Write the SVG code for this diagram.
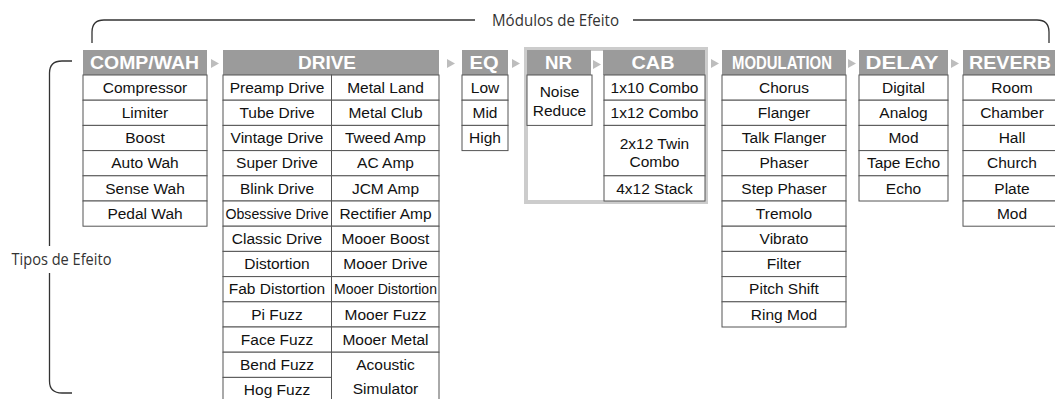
<svg xmlns="http://www.w3.org/2000/svg" width="1055" height="399" viewBox="0 0 1055 399">
<style>
.bg{fill:#fff}
.c{fill:#fff;stroke:#555;stroke-width:1}
.t{font-family:"Liberation Sans",Arial,sans-serif;font-size:15.5px;fill:#111;text-anchor:middle}
.hd{fill:#9b9b9b}
.ht{font-family:"Liberation Sans",Arial,sans-serif;font-size:19px;font-weight:bold;fill:#fff;text-anchor:middle}
.ar{fill:#bdbdbd}
.br{fill:none;stroke:#333;stroke-width:1.3}
.lb{font-family:"Open Sans","Noto Sans",sans-serif;font-size:15.5px;fill:#333}
</style>
<rect class="bg" x="0" y="0" width="1055" height="399"/>

<g id="connectors">
<path class="br" d="M92,43 L92,32 Q92,20 104,20 L475,20 M633,20 L1037,20 Q1049,20 1049,32 L1049,43"/>
<path class="br" d="M72,61 L62,61 Q49.5,61 49.5,73 L49.5,246 M49.5,273 L49.5,381 Q49.5,393 62,393 L72,393"/>
<polygon class="ar" points="211,59 219,63.5 211,68"/>
<polygon class="ar" points="447,59 455,63.5 447,68"/>
<polygon class="ar" points="512,59 520,63.5 512,68"/>
<polygon class="ar" points="593,60 601,64.5 593,69"/>
<polygon class="ar" points="711,59 719,63.5 711,68"/>
<polygon class="ar" points="848,59 856,63.5 848,68"/>
<polygon class="ar" points="951,59 959,63.5 951,68"/>
</g>

<g id="labels">
<text class="lb" x="555.5" y="25.5" text-anchor="middle" textLength="127" lengthAdjust="spacingAndGlyphs">Módulos de Efeito</text>
<text class="lb" x="11.5" y="265" textLength="100" lengthAdjust="spacingAndGlyphs">Tipos de Efeito</text>
</g>

<g id="nr-cab-frame">
<rect x="526" y="49" width="180" height="153" fill="none" stroke="#cccccc" stroke-width="4"/>
</g>

<g id="comp-wah">
<rect class="hd" x="83" y="50" width="124" height="25"/>
<text class="ht" x="144.5" y="69" textLength="109" lengthAdjust="spacingAndGlyphs">COMP/WAH</text>
<rect class="c" x="83" y="75" width="124" height="25.2"/><text class="t" x="145" y="92.8">Compressor</text>
<rect class="c" x="83" y="100.2" width="124" height="25.2"/><text class="t" x="145" y="118">Limiter</text>
<rect class="c" x="83" y="125.4" width="124" height="25.2"/><text class="t" x="145" y="143.2">Boost</text>
<rect class="c" x="83" y="150.6" width="124" height="25.2"/><text class="t" x="145" y="168.4">Auto Wah</text>
<rect class="c" x="83" y="175.8" width="124" height="25.2"/><text class="t" x="145" y="193.6">Sense Wah</text>
<rect class="c" x="83" y="201" width="124" height="25.2"/><text class="t" x="145" y="218.8">Pedal Wah</text>
</g>

<g id="drive">
<rect class="hd" x="223" y="50" width="216" height="25"/>
<text class="ht" x="327" y="69" textLength="58" lengthAdjust="spacingAndGlyphs">DRIVE</text>
<rect class="c" x="223" y="75" width="108.5" height="25.2"/><text class="t" x="277" y="92.8">Preamp Drive</text>
<rect class="c" x="223" y="100.2" width="108.5" height="25.2"/><text class="t" x="277" y="118">Tube Drive</text>
<rect class="c" x="223" y="125.4" width="108.5" height="25.2"/><text class="t" x="277" y="143.2">Vintage Drive</text>
<rect class="c" x="223" y="150.6" width="108.5" height="25.2"/><text class="t" x="277" y="168.4">Super Drive</text>
<rect class="c" x="223" y="175.8" width="108.5" height="25.2"/><text class="t" x="277" y="193.6">Blink Drive</text>
<rect class="c" x="223" y="201" width="108.5" height="25.2"/><text class="t" x="277" y="218.8" textLength="103" lengthAdjust="spacingAndGlyphs">Obsessive Drive</text>
<rect class="c" x="223" y="226.2" width="108.5" height="25.2"/><text class="t" x="277" y="244">Classic Drive</text>
<rect class="c" x="223" y="251.4" width="108.5" height="25.2"/><text class="t" x="277" y="269.2">Distortion</text>
<rect class="c" x="223" y="276.6" width="108.5" height="25.2"/><text class="t" x="277" y="294.4">Fab Distortion</text>
<rect class="c" x="223" y="301.8" width="108.5" height="25.2"/><text class="t" x="277" y="319.6">Pi Fuzz</text>
<rect class="c" x="223" y="327" width="108.5" height="25.2"/><text class="t" x="277" y="344.8">Face Fuzz</text>
<rect class="c" x="223" y="352.2" width="108.5" height="25.2"/><text class="t" x="277" y="370">Bend Fuzz</text>
<rect class="c" x="223" y="377.4" width="108.5" height="25.2"/><text class="t" x="277" y="395.2">Hog Fuzz</text>
<rect class="c" x="331.5" y="75" width="107.5" height="25.2"/><text class="t" x="385.5" y="92.8">Metal Land</text>
<rect class="c" x="331.5" y="100.2" width="107.5" height="25.2"/><text class="t" x="385.5" y="118">Metal Club</text>
<rect class="c" x="331.5" y="125.4" width="107.5" height="25.2"/><text class="t" x="385.5" y="143.2">Tweed Amp</text>
<rect class="c" x="331.5" y="150.6" width="107.5" height="25.2"/><text class="t" x="385.5" y="168.4">AC Amp</text>
<rect class="c" x="331.5" y="175.8" width="107.5" height="25.2"/><text class="t" x="385.5" y="193.6">JCM Amp</text>
<rect class="c" x="331.5" y="201" width="107.5" height="25.2"/><text class="t" x="385.5" y="218.8">Rectifier Amp</text>
<rect class="c" x="331.5" y="226.2" width="107.5" height="25.2"/><text class="t" x="385.5" y="244">Mooer Boost</text>
<rect class="c" x="331.5" y="251.4" width="107.5" height="25.2"/><text class="t" x="385.5" y="269.2">Mooer Drive</text>
<rect class="c" x="331.5" y="276.6" width="107.5" height="25.2"/><text class="t" x="385.5" y="294.4" textLength="103" lengthAdjust="spacingAndGlyphs">Mooer Distortion</text>
<rect class="c" x="331.5" y="301.8" width="107.5" height="25.2"/><text class="t" x="385.5" y="319.6">Mooer Fuzz</text>
<rect class="c" x="331.5" y="327" width="107.5" height="25.2"/><text class="t" x="385.5" y="344.8">Mooer Metal</text>
<rect class="c" x="331.5" y="352.2" width="107.5" height="50.4"/><text class="t" x="385.5" y="369.5">Acoustic</text><text class="t" x="385.5" y="393.5">Simulator</text>
</g>

<g id="eq">
<rect class="hd" x="462" y="50" width="46" height="25"/>
<text class="ht" x="484" y="69" textLength="29" lengthAdjust="spacingAndGlyphs">EQ</text>
<rect class="c" x="462" y="75" width="46" height="25.2"/><text class="t" x="485" y="92.8">Low</text>
<rect class="c" x="462" y="100.2" width="46" height="25.2"/><text class="t" x="485" y="118">Mid</text>
<rect class="c" x="462" y="125.4" width="46" height="25.2"/><text class="t" x="485" y="143.2">High</text>
</g>

<g id="nr">
<rect class="hd" x="527" y="50" width="64" height="25"/>
<text class="ht" x="558.5" y="69" textLength="27" lengthAdjust="spacingAndGlyphs">NR</text>
<rect class="c" x="527" y="75" width="65" height="50.4"/><text class="t" x="559.5" y="97">Noise</text><text class="t" x="559.5" y="115.5">Reduce</text>
</g>

<g id="cab">
<rect class="hd" x="603" y="50" width="102" height="25"/>
<text class="ht" x="653" y="69" textLength="43" lengthAdjust="spacingAndGlyphs">CAB</text>
<rect class="c" x="604" y="75" width="101" height="25.2"/><text class="t" x="654.5" y="92.8">1x10 Combo</text>
<rect class="c" x="604" y="100.2" width="101" height="25.2"/><text class="t" x="654.5" y="118">1x12 Combo</text>
<rect class="c" x="604" y="125.4" width="101" height="50.4"/><text class="t" x="654.5" y="148.5">2x12 Twin</text><text class="t" x="654.5" y="166.5">Combo</text>
<rect class="c" x="604" y="175.8" width="101" height="25.2"/><text class="t" x="654.5" y="193.6">4x12 Stack</text>
</g>

<g id="modulation">
<rect class="hd" x="722" y="50" width="124" height="25"/>
<text class="ht" x="782" y="69" textLength="100" lengthAdjust="spacingAndGlyphs">MODULATION</text>
<rect class="c" x="722" y="75" width="124" height="25.2"/><text class="t" x="784" y="92.8">Chorus</text>
<rect class="c" x="722" y="100.2" width="124" height="25.2"/><text class="t" x="784" y="118">Flanger</text>
<rect class="c" x="722" y="125.4" width="124" height="25.2"/><text class="t" x="784" y="143.2">Talk Flanger</text>
<rect class="c" x="722" y="150.6" width="124" height="25.2"/><text class="t" x="784" y="168.4">Phaser</text>
<rect class="c" x="722" y="175.8" width="124" height="25.2"/><text class="t" x="784" y="193.6">Step Phaser</text>
<rect class="c" x="722" y="201" width="124" height="25.2"/><text class="t" x="784" y="218.8">Tremolo</text>
<rect class="c" x="722" y="226.2" width="124" height="25.2"/><text class="t" x="784" y="244">Vibrato</text>
<rect class="c" x="722" y="251.4" width="124" height="25.2"/><text class="t" x="784" y="269.2">Filter</text>
<rect class="c" x="722" y="276.6" width="124" height="25.2"/><text class="t" x="784" y="294.4">Pitch Shift</text>
<rect class="c" x="722" y="301.8" width="124" height="25.2"/><text class="t" x="784" y="319.6">Ring Mod</text>
</g>

<g id="delay">
<rect class="hd" x="859" y="50" width="89" height="25"/>
<text class="ht" x="902" y="69" textLength="73" lengthAdjust="spacingAndGlyphs">DELAY</text>
<rect class="c" x="859" y="75" width="89" height="25.2"/><text class="t" x="903.5" y="92.8">Digital</text>
<rect class="c" x="859" y="100.2" width="89" height="25.2"/><text class="t" x="903.5" y="118">Analog</text>
<rect class="c" x="859" y="125.4" width="89" height="25.2"/><text class="t" x="903.5" y="143.2">Mod</text>
<rect class="c" x="859" y="150.6" width="89" height="25.2"/><text class="t" x="903.5" y="168.4">Tape Echo</text>
<rect class="c" x="859" y="175.8" width="89" height="25.2"/><text class="t" x="903.5" y="193.6">Echo</text>
</g>

<g id="reverb">
<rect class="hd" x="963" y="50" width="100" height="25"/>
<text class="ht" x="1010" y="69" textLength="82" lengthAdjust="spacingAndGlyphs">REVERB</text>
<rect class="c" x="963" y="75" width="100" height="25.2"/><text class="t" x="1012" y="92.8">Room</text>
<rect class="c" x="963" y="100.2" width="100" height="25.2"/><text class="t" x="1012" y="118">Chamber</text>
<rect class="c" x="963" y="125.4" width="100" height="25.2"/><text class="t" x="1012" y="143.2">Hall</text>
<rect class="c" x="963" y="150.6" width="100" height="25.2"/><text class="t" x="1012" y="168.4">Church</text>
<rect class="c" x="963" y="175.8" width="100" height="25.2"/><text class="t" x="1012" y="193.6">Plate</text>
<rect class="c" x="963" y="201" width="100" height="25.2"/><text class="t" x="1012" y="218.8">Mod</text>
</g>
</svg>
